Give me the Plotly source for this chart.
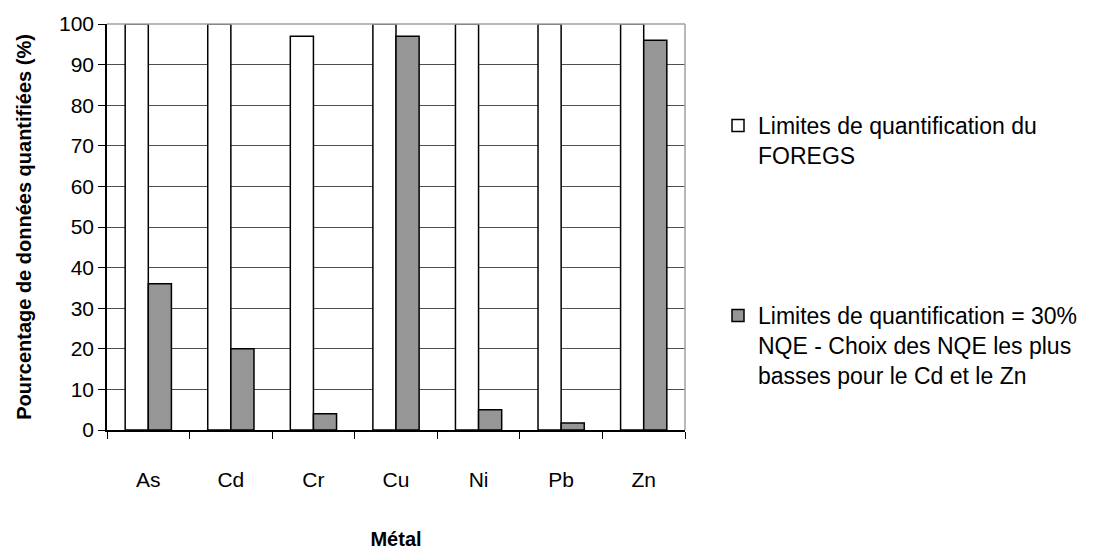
import plotly.graph_objects as go

metals = ["As", "Cd", "Cr", "Cu", "Ni", "Pb", "Zn"]
foregs = [100, 100, 97, 100, 100, 100, 100]
nqe30 = [36, 20, 4, 97, 5, 1.7, 96]
name1 = "Limites de quantification du<br>FOREGS"
name2 = "Limites de quantification = 30%<br>NQE - Choix des NQE les plus<br>basses pour le Cd et le Zn"
y_ticks = list(range(0, 101, 10))

FONT = "Liberation Sans, Arial, sans-serif"

fig = go.Figure()
fig.add_trace(go.Bar(x=metals, y=foregs, name=name1, legend="legend", showlegend=True,
                     marker=dict(color="white", line=dict(color="black", width=1.5))))
fig.add_trace(go.Bar(x=metals, y=nqe30, name=name2, legend="legend2", showlegend=True,
                     marker=dict(color="#969696", line=dict(color="black", width=1.5))))

W, H = 1105, 548
L, R, T, B = 99, 677, 16, 422
PW, PH = R - L, B - T
fig.update_layout(
    width=W, height=H,
    margin=dict(l=L, r=W - R, t=T, b=H - B, pad=0, autoexpand=False),
    paper_bgcolor="white", plot_bgcolor="white",
    barmode="group", bargap=0.44, bargroupgap=0,
    font=dict(family=FONT, size=20, color="black"),
    legend=dict(x=(710 - L) / PW, y=(B - 96) / PH, xanchor="left", yanchor="top",
                valign="top", font=dict(size=23), bgcolor="rgba(0,0,0,0)"),
    legend2=dict(x=(710 - L) / PW, y=(B - 286) / PH, xanchor="left", yanchor="top",
                 valign="top", font=dict(size=23), bgcolor="rgba(0,0,0,0)"),
    xaxis=dict(title=dict(text="<b>Métal</b>", font=dict(size=20), standoff=42),
               automargin=False,
               showline=True, linecolor="black", linewidth=1.5,
               ticks="outside", tickson="boundaries", ticklen=7, tickcolor="black",
               ticklabelstandoff=30, tickfont=dict(size=21), showgrid=False),
    yaxis=dict(title=dict(text="<b>Pourcentage de données quantifiées (%)</b>", font=dict(size=20), standoff=22),
               automargin=False,
               range=[0, 100], tickvals=y_ticks, showline=True, linecolor="black", linewidth=1.5,
               ticks="outside", ticklen=7, tickcolor="black", tickfont=dict(size=21),
               showgrid=True, gridcolor="#505050", gridwidth=1, zeroline=False),
    shapes=[dict(type="line", xref="paper", yref="paper", x0=1, x1=1, y0=0, y1=1,
                 line=dict(color="#a0a0a0", width=1.5)),
            dict(type="line", xref="paper", yref="paper", x0=0, x1=1, y0=1, y1=1,
                 line=dict(color="#a0a0a0", width=1.5))],
)

fig.write_html("out.html")
